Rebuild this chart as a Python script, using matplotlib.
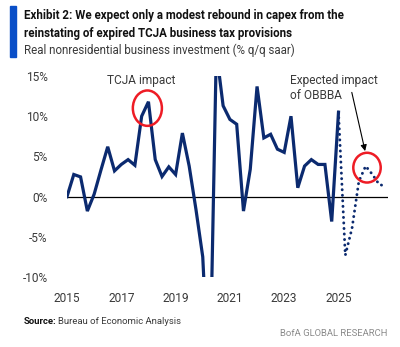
import matplotlib
matplotlib.use("Agg")
import matplotlib.pyplot as plt
from matplotlib.patches import Ellipse, Rectangle
import numpy as np

# Real nonresidential business investment, % q/q saar, quarterly from 2015Q1
actual = [0.0, 2.75, 2.45, -1.8,
          0.3, 3.3, 6.2, 3.2,
          4.0, 4.6, 3.9, 10.0,
          11.8, 4.6, 2.5, 3.7,
          2.75, 7.9, 3.8, -1.6,
          -7.5, -25.0, 18.1, 11.3,
          9.6, 9.0, -1.8, 3.4,
          13.7, 7.3, 7.75, 5.9,
          5.5, 10.0, 1.1, 3.8,
          4.6, 4.0, 4.0, -3.1,
          10.5]
# Projection path, 2025Q1 to 2026Q4
forecast = [10.5, -7.3, -3.9, 1.9, 3.8, 2.75, 1.5, 1.3]

start_year = 2015.0
t_actual = start_year + 0.25 * np.arange(len(actual))
t_forecast = t_actual[-1] + 0.25 * np.arange(len(forecast))

year_ticks = [2015, 2017, 2019, 2021, 2023, 2025]
pct_ticks = [-10, -5, 0, 5, 10, 15]

W, H = 400, 347
NAVY = "#0b2a6f"
GREY_TXT = "#3a3a3a"
FONT = ["Roboto", "DejaVu Sans"]
plt.rcParams["font.family"] = FONT

fig = plt.figure(figsize=(W / 100, H / 100), dpi=100)

def fx(px):
    return px / W

def fy(py):
    return 1 - py / H

# axes box in pixels: left 67, right 388, top 76, bottom 277
ax = fig.add_axes([fx(67), fy(277), fx(388 - 67), (277 - 76) / H])
ax.set_xlim(2015.0, 2015.0 + 321 / 27.15)
ax.set_ylim(-10, 15)

ax.axhline(0, color="black", lw=0.9, zorder=1)
ax.plot(t_actual, actual, color=NAVY, lw=2.3, solid_joinstyle="miter", zorder=3)
ax.plot(t_forecast, forecast, color=NAVY, lw=2.1,
        linestyle=(0, (0.05, 1.85)), dash_capstyle="round", zorder=3)

for s in ax.spines.values():
    s.set_visible(False)
ax.set_xticks(year_ticks)
ax.set_xticklabels([str(y) for y in year_ticks])
ax.set_yticks(pct_ticks)
ax.set_yticklabels([f"{v}%" for v in pct_ticks])
ax.tick_params(length=0, labelsize=8.6, colors=GREY_TXT)
ax.tick_params(axis="x", pad=11)
ax.tick_params(axis="y", pad=14)

# TCJA highlight
ax.add_patch(Ellipse((2017.96, 11.0), 1.07, 4.4, fill=False, ec="#ee1c25",
                     lw=1.8, zorder=4, clip_on=False))
ax.text(2017.73, 14.4, "TCJA impact", ha="center", va="center",
        fontsize=8.6, color=GREY_TXT)

# OBBBA highlight
ax.add_patch(Ellipse((2026.05, 3.6), 1.01, 3.7, fill=False, ec="#ee1c25",
                     lw=1.8, zorder=4, clip_on=False))
ax.text(2023.21, 13.5, "Expected impact\nof OBBBA", ha="left", va="center",
        fontsize=8.6, color=GREY_TXT, linespacing=1.25)
ax.annotate("", xy=(2025.98, 5.66), xytext=(2025.49, 12.96),
            arrowprops=dict(arrowstyle="-|>", color="black", lw=0.8,
                            mutation_scale=9, shrinkA=0, shrinkB=0))

# header
fig.add_artist(Rectangle((fx(10), fy(57)), fx(6), 51 / H, color="#0a4fc8",
                         transform=fig.transFigure))
fig.text(fx(24), fy(16), "Exhibit 2: We expect only a modest rebound in capex from the",
         ha="left", va="center", fontsize=8.3, fontweight="bold", color="#111111")
fig.text(fx(24), fy(33.3), "reinstating of expired TCJA business tax provisions",
         ha="left", va="center", fontsize=8.3, fontweight="bold", color="#111111")
fig.text(fx(24), fy(50.7), "Real nonresidential business investment (% q/q saar)",
         ha="left", va="center", fontsize=8.3, color=GREY_TXT)

# footer
src = fig.text(fx(24), fy(321), "Source:", ha="left", va="center",
               fontsize=6.8, fontweight="bold", color="#111111")
fig.canvas.draw()
bb = src.get_window_extent()
fig.text((bb.x1 + 1.5) / W, fy(321), "Bureau of Economic Analysis", ha="left",
         va="center", fontsize=6.8, color=GREY_TXT)
fig.text(fx(387), fy(333), "BofA GLOBAL RESEARCH", ha="right", va="center",
         fontsize=6.8, color="#8a8a8a")

fig.savefig("out.png", dpi=100)
